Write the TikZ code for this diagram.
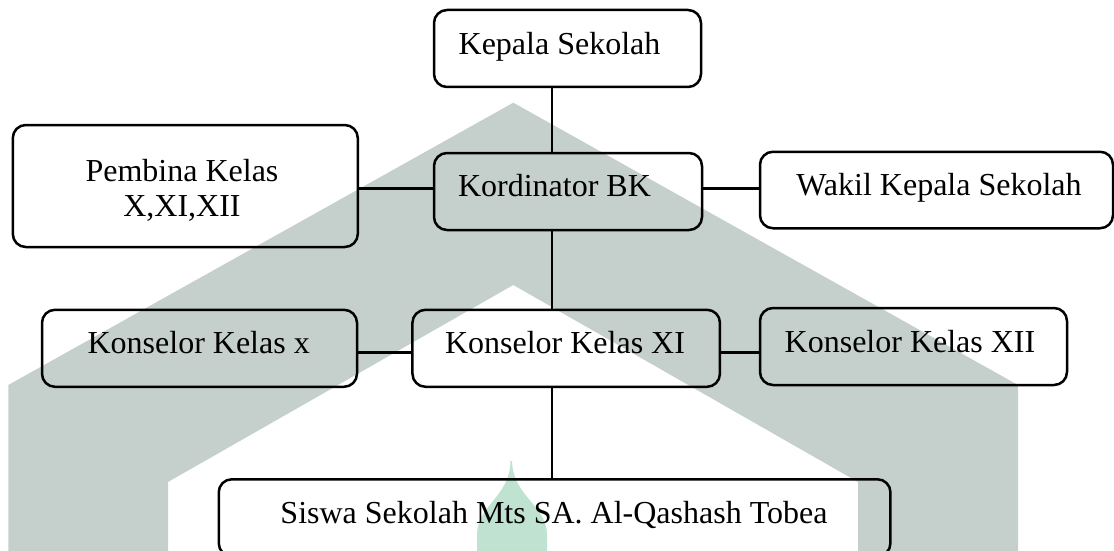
\documentclass[tikz,border=0pt]{standalone}
\usepackage{fontspec}
\setmainfont{Liberation Serif}
\definecolor{wmgray}{RGB}{197,207,203}
\definecolor{wmgreen}{RGB}{191,227,208}
\begin{document}
\begin{tikzpicture}[x=1pt,y=-1pt,
  box/.style={draw=black, line width=2.5pt, rounded corners=13pt, inner sep=0pt, anchor=center},
  lbl/.style={inner sep=0pt, anchor=base, font=\fontsize{32}{35}\selectfont, align=center},
  link/.style={draw=black, line width=2.3pt},
  hlink/.style={draw=black, line width=3pt}]
\useasboundingbox (0,0) rectangle (1114,551);
% watermark
\fill[wmgray] (513.3,102.7) -- (8.3,385) -- (8.3,560) -- (168,560) -- (168,482) -- (513.3,285)
  -- (858,482) -- (858,560) -- (1018,560) -- (1018,385) -- cycle;
\fill[wmgreen] (510.5,461) -- (512,461) .. controls (513,497) and (547,505) .. (547,535)
  -- (547,560) -- (477,560) -- (477,535) .. controls (477,505) and (510,497) .. (510.5,461) -- cycle;
% boxes
\node[box, minimum width=267pt, minimum height=77pt] (kepala) at (567.5,48.5) {};
\node[box, minimum width=268pt, minimum height=77pt] (kord) at (568,191.5) {};
\node[box, minimum width=345pt, minimum height=122pt] (pembina) at (185.3,186) {};
\node[box, minimum width=353pt, minimum height=76.5pt] (wakil) at (936.5,190) {};
\node[box, minimum width=315pt, minimum height=77pt] (kx) at (199.5,348.3) {};
\node[box, minimum width=307.5pt, minimum height=77pt] (kxi) at (566.2,348.3) {};
\node[box, minimum width=307pt, minimum height=77pt] (kxii) at (913.5,346.5) {};
\node[box, minimum width=671.7pt, minimum height=77pt] (siswa) at (554.6,517.8) {};
% texts
\node[lbl] (kepalaT) at (559.5,55) {Kepala Sekolah};
\node[lbl] (kordT) at (554.5,196.7) {Kordinator BK};
\node[lbl] (pembinaT) at (182,216) {Pembina Kelas\\X,XI,XII};
\node[lbl] (wakilT) at (939,195) {Wakil Kepala Sekolah};
\node[lbl] (kxT) at (198.7,353) {Konselor Kelas x};
\node[lbl] (kxiT) at (565,353) {Konselor Kelas XI};
\node[lbl] (kxiiT) at (910,352) {Konselor Kelas XII};
\node[lbl] (siswaT) at (554,523) {Siswa Sekolah Mts SA. Al-Qashash Tobea};
% connectors
\coordinate (vx) at (552,0);
\coordinate (h1) at (0,188);
\coordinate (h2) at (0,352.3);
\draw[link] (kepala.south -| vx) -- (kord.north -| vx);
\draw[link] (kord.south -| vx) -- (kxi.north -| vx);
\draw[link] (kxi.south -| vx) -- (siswa.north -| vx);
\draw[hlink] (pembina.east |- h1) -- (kord.west |- h1);
\draw[hlink] (kord.east |- h1) -- (wakil.west |- h1);
\draw[hlink] (kx.east |- h2) -- (kxi.west |- h2);
\draw[hlink] (kxi.east |- h2) -- (kxii.west |- h2);
\end{tikzpicture}
\end{document}
